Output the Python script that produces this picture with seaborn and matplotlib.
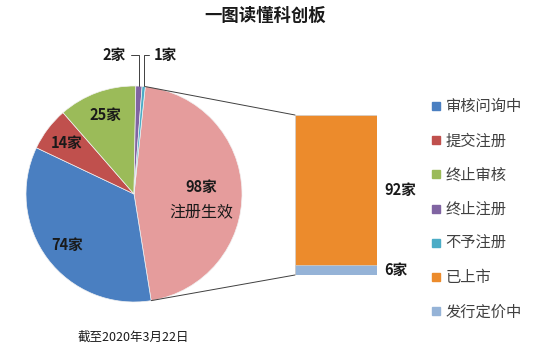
import numpy as np
import pandas as pd
import seaborn as sns
import matplotlib.pyplot as plt
from matplotlib.patches import ConnectionPatch
from matplotlib.lines import Line2D

# pie part (the big "注册生效" slice is split out into the bar)
pie_labels = ["审核问询中", "提交注册", "终止审核", "终止注册", "不予注册"]
pie_values = [74, 14, 25, 2, 1]
pie_colors = ["#4a7fc1", "#c0504d", "#9bbb59", "#8064a2", "#4bacc6"]
other_label = "注册生效"
other_color = "#e59c9c"
# bar part
bar_labels = ["已上市", "发行定价中"]
bar_values = [92, 6]
bar_colors = ["#ec8b2c", "#95b3d7"]

sns.set_theme(style="white")
plt.rcParams['font.family'] = ['Noto Sans CJK SC', 'DejaVu Sans']

fig = plt.figure(figsize=(5.5, 3.58), dpi=100)
ax_pie = fig.add_axes([26 / 550, 56 / 358, 216 / 550, 216 / 358])
ax_bar = fig.add_axes([295 / 550, 83 / 358, 82 / 550, 160 / 358])

other_value = sum(bar_values)
vals = [other_value] + pie_values
cols = [other_color] + pie_colors
wedges, _ = ax_pie.pie(
    vals, colors=cols, startangle=84, counterclock=False, radius=1,
    wedgeprops=dict(edgecolor="#f2f2f2", linewidth=0.5),
)
ax_pie.set_xlim(-1, 1)
ax_pie.set_ylim(-1, 1)

def mid(w):
    return np.deg2rad((w.theta1 + w.theta2) / 2)

# labels inside the larger slices
for w, v in zip(wedges[1:4], pie_values[:3]):
    a = mid(w)
    ax_pie.text(0.78 * np.cos(a), 0.78 * np.sin(a), f"{v}家", ha="center", va="center",
                fontsize=10.5, fontweight="bold", color="#1a1a1a")
a = mid(wedges[0])
ax_pie.text(0.62 * np.cos(a), 0.62 * np.sin(a) + 0.05, f"{other_value}家", ha="center", va="center",
            fontsize=10.5, fontweight="bold", color="#1a1a1a")
ax_pie.text(0.62 * np.cos(a), 0.62 * np.sin(a) - 0.18, other_label, ha="center", va="center",
            fontsize=11.5, color="#1a1a1a")

# small slices with leader lines (text -> sideways -> down to the slice)
small_pos = [(-0.18, 1.29), (0.29, 1.29)]
small_rel = [(1.0, 0.5), (0.0, 0.5)]
for w, v, (tx, ty), rel in zip(wedges[4:6], pie_values[3:5], small_pos, small_rel):
    a = mid(w)
    ax_pie.annotate(f"{v}家", xy=(np.cos(a), np.sin(a)), xytext=(tx, ty),
                    ha="center", va="center", fontsize=10.5, fontweight="bold", color="#1a1a1a",
                    arrowprops=dict(arrowstyle="-", color="#404040", lw=0.7, relpos=rel,
                                    connectionstyle="angle,angleA=0,angleB=90,rad=0",
                                    shrinkA=1, shrinkB=0),
                    annotation_clip=False)

# stacked bar
sns.barplot(x=["a"], y=[bar_values[0] + bar_values[1]], color=bar_colors[0], saturation=1,
            width=0.8, ax=ax_bar, edgecolor="#d0d0d0", linewidth=0.5)
sns.barplot(x=["a"], y=[bar_values[1]], color=bar_colors[1], saturation=1,
            width=0.8, ax=ax_bar, edgecolor="#d0d0d0", linewidth=0.5)
ax_bar.set_xlim(-0.4, 0.4)
ax_bar.set_ylim(0, other_value)
ax_bar.axis("off")
ax_bar.annotate(f"{bar_values[0]}家", xy=(0.4, bar_values[1] + bar_values[0] / 2), xytext=(5, 0),
                textcoords="offset points", ha="left", va="center", fontsize=10.5, fontweight="bold",
                color="#1a1a1a", annotation_clip=False)
ax_bar.annotate(f"{bar_values[1]}家", xy=(0.4, bar_values[1] / 2), xytext=(5, 0),
                textcoords="offset points", ha="left", va="center", fontsize=10.5, fontweight="bold",
                color="#1a1a1a", annotation_clip=False)

# connecting lines pie -> bar
w0 = wedges[0]
for ang, yb in [(w0.theta2, other_value), (w0.theta1, 0)]:
    r = np.deg2rad(ang)
    con = ConnectionPatch(xyA=(np.cos(r), np.sin(r)), coordsA=ax_pie.transData,
                          xyB=(-0.4, yb), coordsB=ax_bar.transData, color="#404040", lw=0.7)
    fig.add_artist(con)

# legend
handles = [Line2D([], [], marker="s", ls="", color=c, markersize=6)
           for c in pie_colors + bar_colors]
fig.legend(handles, pie_labels + bar_labels, loc="upper left",
           bbox_to_anchor=(424 / 550, 1 - 92 / 358), frameon=False, fontsize=11,
           labelspacing=1.13, handlelength=0.8, handletextpad=0.2,
           labelcolor="#404040", borderaxespad=0)

fig.text(265 / 550, 1 - 16 / 358, "一图读懂科创板", ha="center", va="center",
         fontsize=12.5, fontweight="bold", color="#1a1a1a")
fig.text(78 / 550, 1 - 337 / 358, "截至2020年3月22日", ha="left", va="center",
         fontsize=9, color="#1a1a1a")

fig.savefig("out.png", dpi=100)
